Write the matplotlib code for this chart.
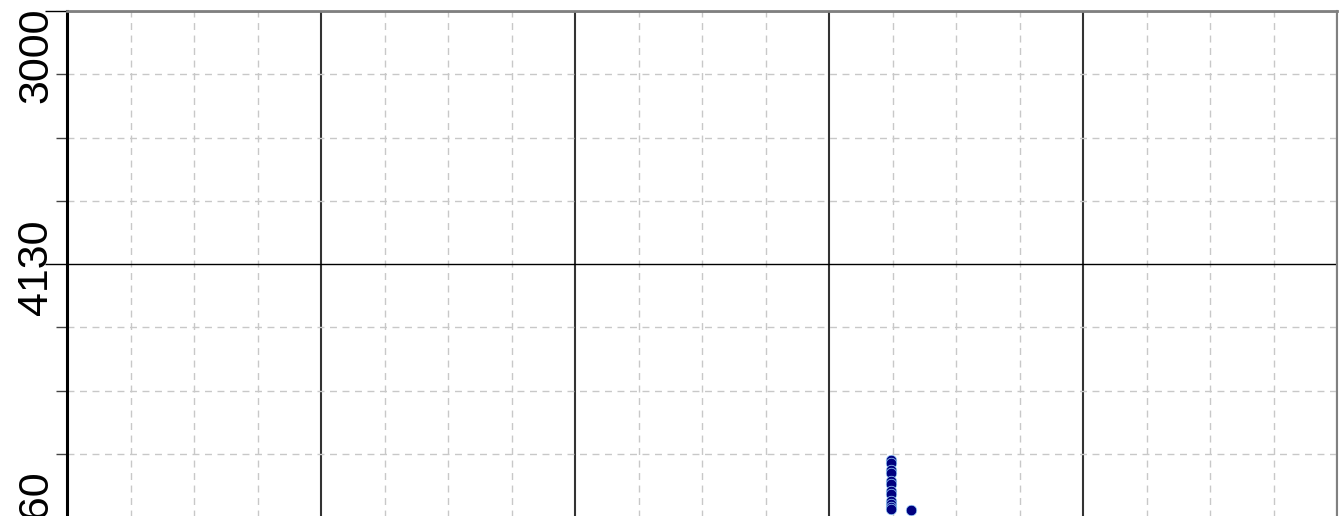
import numpy as np
import matplotlib
matplotlib.use("Agg")
import matplotlib.pyplot as plt
import matplotlib.transforms as mtransforms

# data (grid units: x major step 1, y major step 1, y axis inverted)
x_vals = [3.244, 3.244, 3.244, 3.244, 3.244, 3.244, 3.244, 3.244, 3.244, 3.244, 3.244, 3.244, 3.323]
y_vals = [1.775, 1.787, 1.814, 1.826, 1.858, 1.870, 1.897, 1.909, 1.937, 1.949, 1.960, 1.968, 1.974]

# y labels as printed on the chart, with their positions
y_label_text = ["3000", "4130", "5260"]
y_label_pos = [0.174, 1.012, 2.005]

plt.rcParams['font.family'] = ['Liberation Sans', 'DejaVu Sans']

fig = plt.figure(figsize=(13.39, 5.16), dpi=100)
ax = fig.add_axes([67 / 1339, -1 / 516, 1270 / 1339, 506 / 516])

ax.plot(x_vals, y_vals, linestyle='none', marker='o', markersize=7.6,
        markerfacecolor='#000080', markeredgecolor='#9fd8ff', markeredgewidth=0.5,
        zorder=5, clip_on=False)

ax.set_xlim(0, 5)
ax.set_ylim(2, 0)

ax.set_xticks(np.arange(0, 6, 1))
ax.set_xticks(np.arange(0, 5.01, 0.25), minor=True)
ax.set_yticks(np.arange(0, 3, 1))
ax.set_yticks(np.arange(0, 2.01, 0.25), minor=True)
ax.set_xticklabels([])
ax.set_yticklabels([])

ax.tick_params(axis='x', which='both', length=0)
ax.tick_params(axis='y', which='major', length=16, width=1, color='black')
ax.tick_params(axis='y', which='minor', length=8, width=1, color='#444444')

ax.grid(which='minor', color='#c8c8c8', linestyle=(0, (5, 4)), linewidth=1)
ax.grid(which='major', axis='x', color='#333333', linestyle='-', linewidth=1.5)
ax.grid(which='major', axis='y', color='black', linestyle='-', linewidth=1)
ax.set_axisbelow(True)

ax.spines['left'].set_color('black')
ax.spines['left'].set_linewidth(2.2)
ax.spines['top'].set_color('#808080')
ax.spines['top'].set_linewidth(2)
ax.spines['right'].set_color('#808080')
ax.spines['right'].set_linewidth(1.5)
ax.spines['bottom'].set_visible(False)

trans = mtransforms.blended_transform_factory(ax.transAxes, ax.transData)
for txt, pos in zip(y_label_text, y_label_pos):
    ax.text(-0.0087, pos, txt, transform=trans, rotation=90, fontsize=31,
            ha='right', va='center', color='black', clip_on=False)

fig.savefig('out.png', dpi=100)
